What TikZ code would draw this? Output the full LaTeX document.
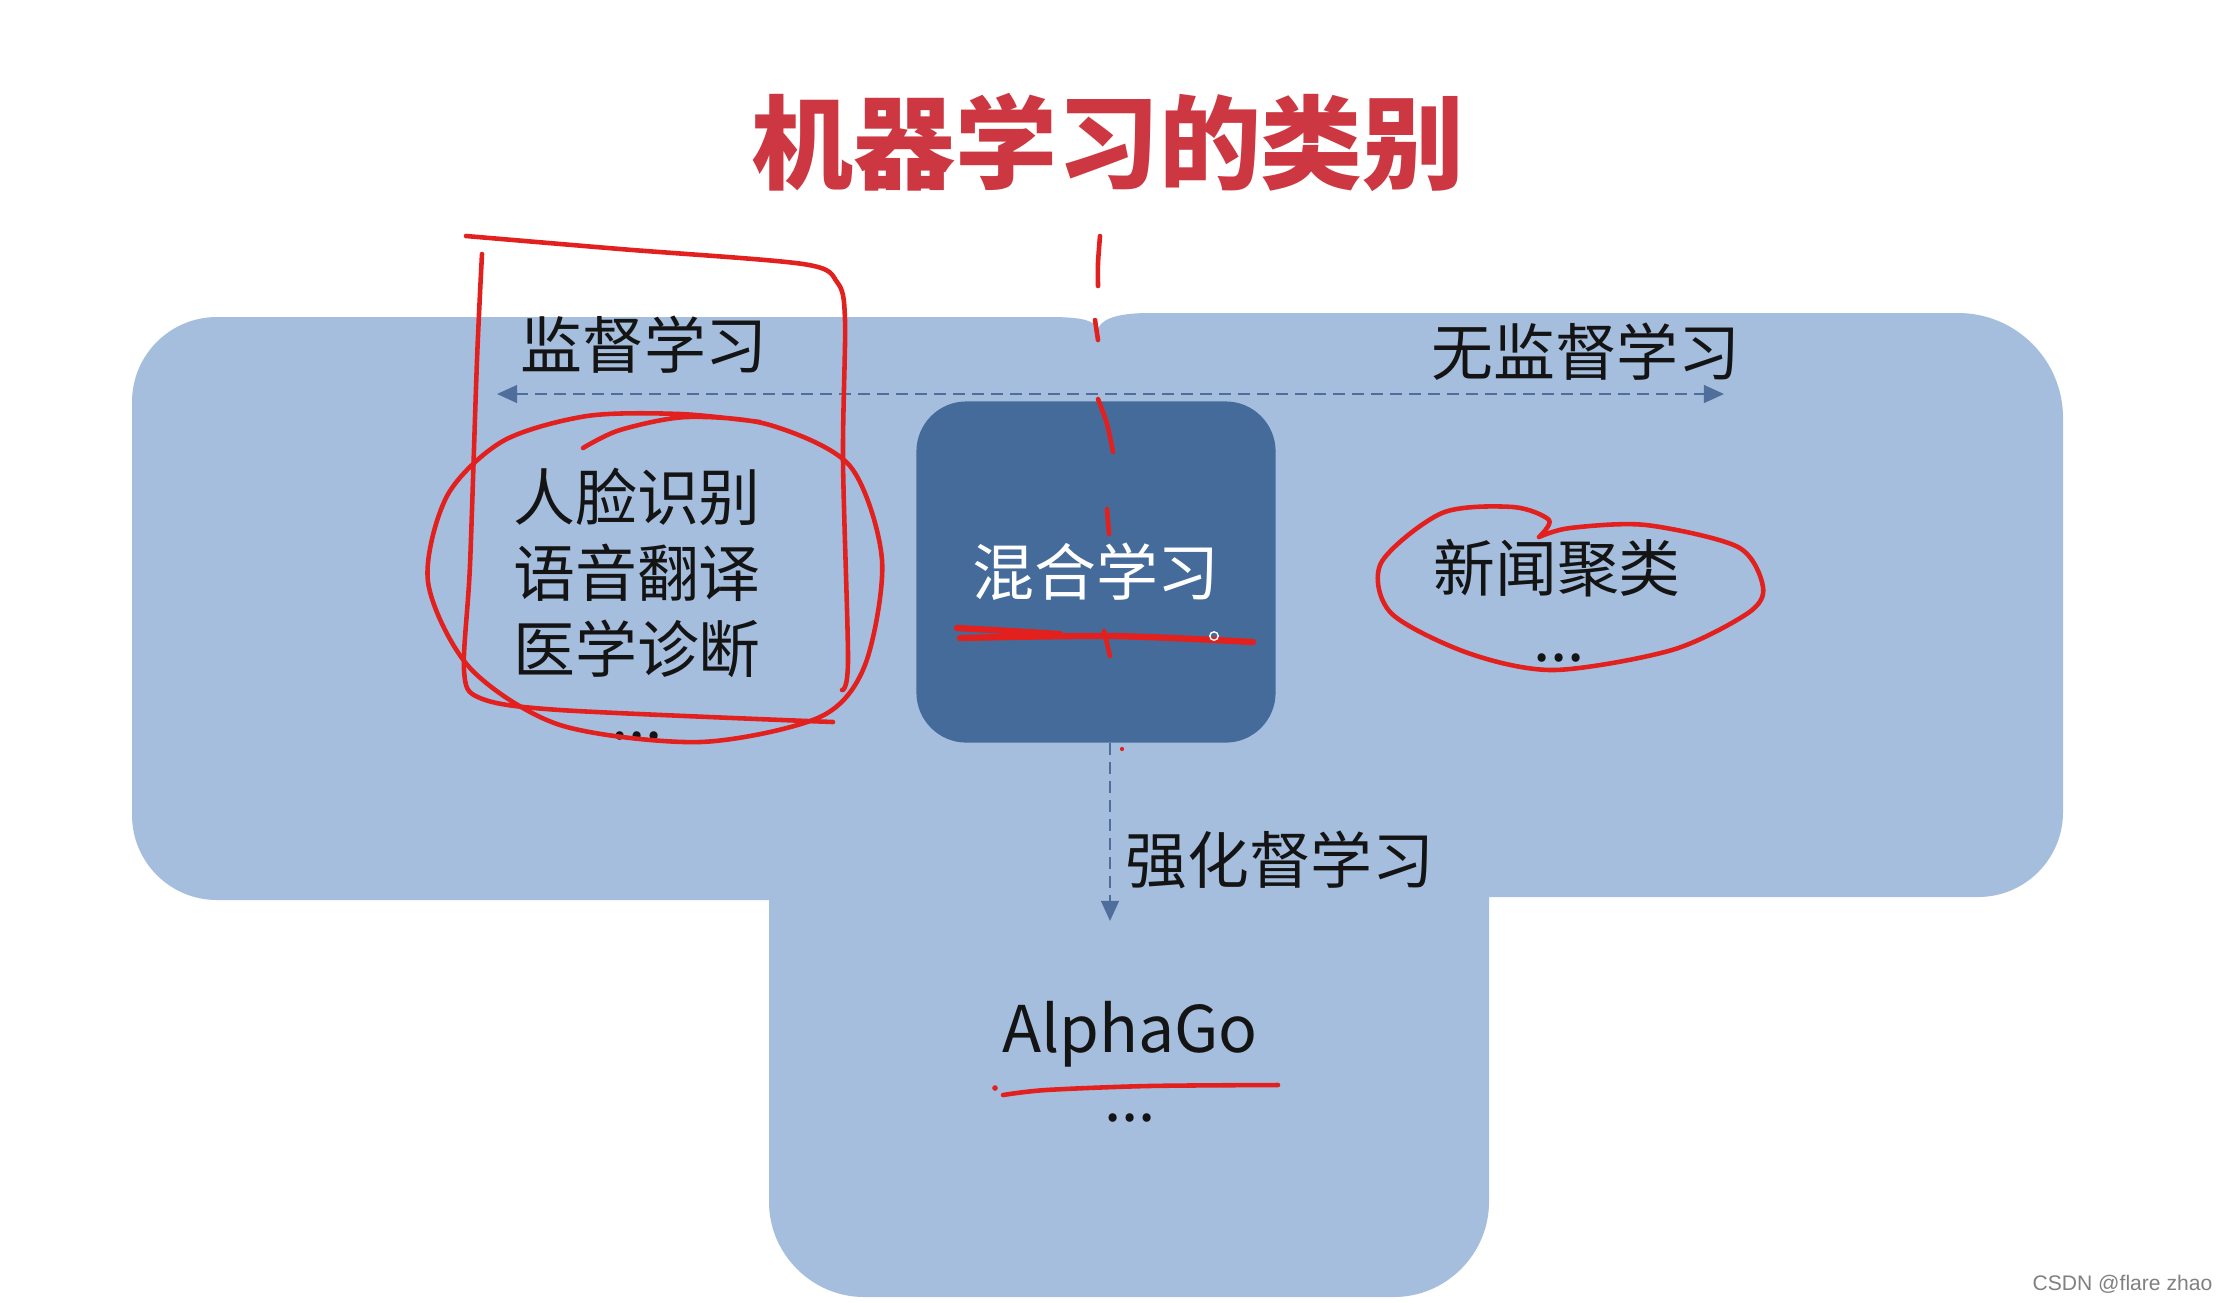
\documentclass[tikz,border=0pt]{standalone}
\usepackage{fontspec}
\newfontfamily\cjk{Noto Sans CJK SC}
\newfontfamily\wmfont{Liberation Sans}
\usetikzlibrary{arrows.meta}
\definecolor{panel}{RGB}{165,190,222}
\definecolor{boxblue}{RGB}{69,107,154}
\definecolor{arrowblue}{RGB}{80,110,155}
\definecolor{titlered}{RGB}{205,55,65}
\definecolor{penred}{RGB}{226,32,30}
\definecolor{ink}{RGB}{20,20,20}

\begin{document}
\begin{tikzpicture}[x=0.01cm,y=-0.01cm,
	txt/.style={font=\cjk\fontsize{17.6}{21.6}\selectfont,text=ink,inner sep=0pt},
	hybrid/.style={fill=boxblue,rounded corners=0.5cm,minimum width=3.59cm,minimum height=3.41cm,
		inner sep=0pt,font=\cjk\fontsize{17.6}{21.6}\selectfont,text=white},
	flow/.style={draw=arrowblue,line width=0.7pt,dash pattern=on 3.4pt off 2pt,
		>={Triangle[length=5.7pt,width=5pt]}},
	scribble/.style={draw=penred,line width=1.3pt,line cap=round,line join=round},
]
\useasboundingbox (0,0) rectangle (2228,1302);
\fill[white] (0,0) rectangle (2228,1302);

\fill[panel] (132,402)
	.. controls (132,355) and (170,317) .. (217,317)
	-- (1050,317)
	.. controls (1080,317) and (1093,320) .. (1098,328)
	.. controls (1104,317) and (1122,313) .. (1150,313)
	-- (1958,313)
	.. controls (2016,313) and (2063,360) .. (2063,418)
	-- (2063,812)
	.. controls (2063,859) and (2025,897) .. (1978,897)
	-- (1489,897) -- (1489,1202)
	.. controls (1489,1254) and (1446,1297) .. (1394,1297)
	-- (864,1297)
	.. controls (812,1297) and (769,1254) .. (769,1202)
	-- (769,900) -- (217,900)
	.. controls (170,900) and (132,862) .. (132,815)
	-- cycle;

\node[font=\cjk\bfseries\fontsize{29}{34}\selectfont,text=titlered,inner sep=0pt] (0) at (1108,142) {机器学习的类别};
\node[txt] (1) at (644,345) {监督学习};
\node[txt] (2) at (1586,352) {无监督学习};
\node[txt,align=center] (3) at (637,573) {人脸识别\\语音翻译\\医学诊断};
\node[txt] (4) at (637,736) {...};
\node[hybrid] (5) at (1096,572) {混合学习};
\node[txt] (6) at (1557,568) {新闻聚类};
\node[txt] (7) at (1559,658) {...};
\node[txt] (8) at (1280,860) {强化督学习};
\node[txt,font=\cjk\fontsize{18.3}{22}\selectfont] (9) at (1130,1034) {AlphaGo};
\node[txt] (10) at (1130,1118) {...};
\node[font=\wmfont\fontsize{6}{7}\selectfont,text=gray,anchor=east,inner sep=0pt] (11) at (2213,1284) {CSDN @flare zhao};

\coordinate (12) at (497,394);
\coordinate (13) at (1724,394);
\coordinate (14) at (1110,921);
\draw[flow,<->] (12) -- (13);
\draw[flow,->] (5.south -| 14) -- (14);

\draw[scribble] plot[smooth] coordinates {(466,236) (620,249) (803,264) (837,282) (845,320) (843,460) (848,660) (842,690)};
\draw[scribble] plot[smooth] coordinates {(482,254) (477,360) (470,565) (464,670) (480,698) (560,710) (833,722)};
\draw[scribble] plot[smooth] coordinates {(583,448) (620,430) (687,417) (770,425) (850,466) (882,560) (865,665) (820,717) (700,742) (560,725) (470,668) (428,582) (447,496) (503,441) (587,416) (680,414) (760,422)};
\draw[scribble] plot[smooth] coordinates {(1539,537) (1549,520) (1513,507) (1442,513) (1381,563) (1391,613) (1468,653) (1554,670) (1672,650) (1748,613) (1763,587) (1738,547) (1646,525) (1570,528) (1539,537)};

\draw[scribble] plot[smooth] coordinates {(1100,236) (1098,263) (1098,286)};
\draw[scribble] (1095,320) -- (1098,340);
\draw[scribble] plot[smooth] coordinates {(1098,399) (1107,424) (1113,452)};
\draw[scribble] (1107,509) -- (1109,534);
\draw[scribble] (1104,631) -- (1110,656);
\fill[penred] (1122,749) circle (0.6pt);

\draw[scribble,line width=1.8pt] plot[smooth] coordinates {(957,628) (1010,631) (1060,634)};
\draw[scribble,line width=1.8pt] plot[smooth] coordinates {(960,638) (1113,636) (1253,642)};
\draw[white,line width=0.4pt] (1214,636) circle (1.2pt);

\fill[penred] (995,1088) circle (0.8pt);
\draw[scribble] plot[smooth] coordinates {(1003,1095) (1046,1090) (1148,1086) (1278,1085)};

\end{tikzpicture}
\end{document}
